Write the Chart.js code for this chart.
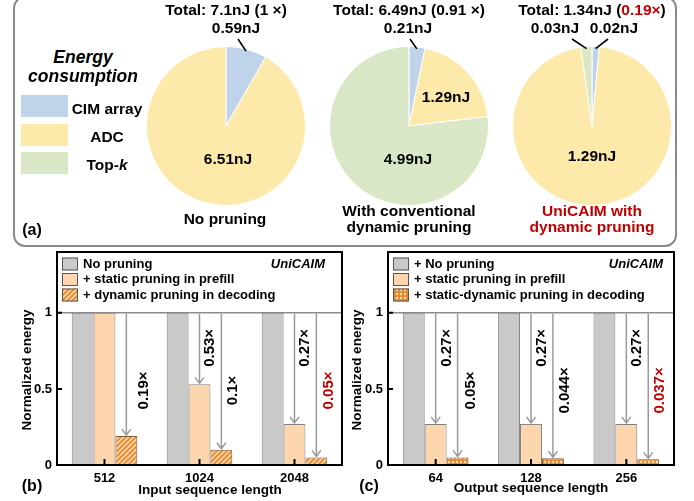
<!DOCTYPE html>
<html>
<head>
<meta charset="utf-8">
<script src="https://cdn.jsdelivr.net/npm/chart.js@4.4.1/dist/chart.umd.min.js"></script>
<style>
  body { margin: 0; background: #fff; }
  #wrap { position: relative; width: 694px; height: 501px; overflow: hidden; font-family: "Liberation Sans", Arial, sans-serif; font-weight: bold; color: #000; }
  canvas { position: absolute; }
  .box { position: absolute; left: 13px; top: -4px; width: 664px; height: 251px; box-sizing: border-box; border: 2px solid #8a8a8a; border-radius: 12px; }
  .t { position: absolute; transform: translate(-50%, -50%); white-space: nowrap; text-align: center; font-size: 15.5px; line-height: 16px; }
  .sw { position: absolute; left: 21px; width: 47px; height: 22px; }
  .red { color: #c00000; }
</style>
</head>
<body>
<div id="wrap">
  <div class="box"></div>
  <canvas id="pie1" width="180" height="246" style="left:136px;top:0"></canvas>
  <canvas id="pie2" width="180" height="246" style="left:319px;top:0"></canvas>
  <canvas id="pie3" width="180" height="246" style="left:502px;top:0"></canvas>

  <div class="t" style="left:83px;top:57px;font-size:17.5px;font-style:italic">Energy</div>
  <div class="t" style="left:83px;top:76px;font-size:17.5px;font-style:italic">consumption</div>
  <div class="sw" style="top:95px;background:#bfd3ea"></div>
  <div class="sw" style="top:124px;background:#fde9a9"></div>
  <div class="sw" style="top:152px;background:#d9e7c6"></div>
  <div class="t" style="left:107px;top:109px">CIM array</div>
  <div class="t" style="left:107px;top:137px">ADC</div>
  <div class="t" style="left:107px;top:165px">Top-<i>k</i></div>

  <div class="t" style="left:226px;top:10px">Total: 7.1nJ (1 ×)</div>
  <div class="t" style="left:409px;top:10px">Total: 6.49nJ (0.91 ×)</div>
  <div class="t" style="left:592px;top:10px">Total: 1.34nJ (<span class="red">0.19×</span>)</div>

  <div class="t" style="left:225px;top:219px">No pruning</div>
  <div class="t" style="left:409px;top:219px">With conventional<br>dynamic pruning</div>
  <div class="t red" style="left:592px;top:219px">UniCAIM with<br>dynamic pruning</div>
  <div class="t" style="left:32px;top:230px;font-size:16px">(a)</div>

  <canvas id="barB" width="347" height="253" style="left:0;top:248px"></canvas>
  <canvas id="barC" width="347" height="253" style="left:347px;top:248px"></canvas>
</div>
<script>
// energy split per pie: CIM array, ADC, Top-k (nJ)
const pieNames = ['CIM array', 'ADC', 'Top-k'];
const noPruningEnergy = [0.59, 6.51, 0];
const conventionalEnergy = [0.21, 1.29, 4.99];
const unicaimEnergy = [0.02, 1.29, 0.03];

// bar panels
const inputLengths = ['512', '1024', '2048'];
const outputLengths = ['64', '128', '256'];
const energyTicks = [0, 0.5, 1];
const inNoPruning = [1, 1, 1];
const inStatic = [1, 0.53, 0.27];
const inDynamic = [0.19, 0.1, 0.05];
const outNoPruning = [1, 1, 1];
const outStatic = [0.27, 0.27, 0.27];
const outStaticDynamic = [0.05, 0.044, 0.037];

const FONT = '"Liberation Sans", Arial, sans-serif';
Chart.defaults.font.family = FONT;
const sliceColors = ['#bfd3ea', '#fde9a9', '#d9e7c6'];
const greyBar = '#c9c9c9';
const peachBar = '#fdd6ad';
const orange = '#e8872a';

function hatchPattern() {
    const c = document.createElement('canvas');
    c.width = c.height = 5;
    const g = c.getContext('2d');
    g.fillStyle = peachBar;
    g.fillRect(0, 0, 5, 5);
    g.strokeStyle = orange;
    g.lineWidth = 1.8;
    g.beginPath();
    g.moveTo(-1, 6); g.lineTo(6, -1);
    g.moveTo(-1, 1); g.lineTo(1, -1);
    g.moveTo(4, 6); g.lineTo(6, 4);
    g.stroke();
    return g.createPattern(c, 'repeat');
}

function dotPattern() {
    const c = document.createElement('canvas');
    c.width = c.height = 4;
    const g = c.getContext('2d');
    g.fillStyle = orange;
    g.fillRect(0, 0, 4, 4);
    g.fillStyle = '#fde2c2';
    g.beginPath();
    g.arc(2, 2, 1.2, 0, Math.PI * 2);
    g.fill();
    return g.createPattern(c, 'repeat');
}

// value labels and leader lines on pies
const sliceLabels = {
    id: 'sliceLabels',
    afterDraw(chart, args, opts) {
        const ctx = chart.ctx;
        const arcs = chart.getDatasetMeta(0).data;
        const values = chart.data.datasets[0].data;
        ctx.save();
        ctx.font = 'bold 15.5px ' + FONT;
        ctx.fillStyle = '#000';
        ctx.textAlign = 'center';
        ctx.textBaseline = 'middle';
        opts.items.forEach(it => {
            const p = arcs[it.index].getProps(['x', 'y', 'outerRadius', 'startAngle', 'endAngle'], true);
            ctx.fillText(values[it.index].toFixed(2) + 'nJ', p.x + it.dx, p.y + it.dy);
            if (it.lead) {
                const mid = (p.startAngle + p.endAngle) / 2;
                ctx.beginPath();
                ctx.moveTo(p.x + it.lead[0], p.y + it.lead[1]);
                ctx.lineTo(p.x + Math.cos(mid) * (p.outerRadius - 2), p.y + Math.sin(mid) * (p.outerRadius - 2));
                ctx.lineWidth = 1.6;
                ctx.strokeStyle = '#000';
                ctx.stroke();
            }
        });
        ctx.restore();
    }
};

function pieChart(id, values, items) {
    return new Chart(document.getElementById(id), {
        type: 'pie',
        data: {
            labels: pieNames,
            datasets: [{ data: values, backgroundColor: sliceColors, borderColor: '#fff', borderWidth: 1 }]
        },
        options: {
            responsive: false,
            animation: false,
            events: [],
            layout: { padding: { left: 10, right: 10, top: 46, bottom: 40 } },
            plugins: { legend: { display: false }, tooltip: { enabled: false }, sliceLabels: { items } }
        },
        plugins: [sliceLabels]
    });
}

pieChart('pie1', noPruningEnergy, [
    { index: 0, dx: 10, dy: -97, lead: [12, -87] },
    { index: 1, dx: 2, dy: 34 }
]);
pieChart('pie2', conventionalEnergy, [
    { index: 0, dx: -1, dy: -97, lead: [1, -87] },
    { index: 1, dx: 37, dy: -28 },
    { index: 2, dx: -1, dy: 34 }
]);
pieChart('pie3', unicaimEnergy, [
    { index: 2, dx: -37, dy: -97, lead: [-20, -87] },
    { index: 0, dx: 22, dy: -97, lead: [16, -87] },
    { index: 1, dx: 0, dy: 31 }
]);

// legend box, arrows, ratio labels, frame and titles on the bar panels
const barDecor = {
    id: 'barDecor',
    afterDraw(chart, args, o) {
        const { ctx, chartArea: a, scales: { x, y } } = chart;
        const y1 = y.getPixelForValue(1);
        ctx.save();

        ctx.fillStyle = '#fff';
        ctx.fillRect(a.left, a.top, a.right - a.left, y1 - a.top);
        ctx.strokeStyle = '#8c8c8c';
        ctx.lineWidth = 1.5;
        ctx.beginPath();
        ctx.moveTo(a.left, y1);
        ctx.lineTo(a.right, y1);
        ctx.stroke();

        ctx.font = 'bold 13px ' + FONT;
        ctx.textBaseline = 'middle';
        chart.data.datasets.forEach((ds, i) => {
            const ry = a.top + 12 + i * 15.5;
            ctx.fillStyle = ds.backgroundColor;
            ctx.fillRect(a.left + 5, ry - 6.5, 16, 13);
            ctx.strokeStyle = '#555';
            ctx.lineWidth = 1;
            ctx.strokeRect(a.left + 5.5, ry - 6, 15, 12);
            ctx.fillStyle = '#000';
            ctx.textAlign = 'left';
            ctx.fillText(ds.label, a.left + 26, ry);
        });
        ctx.font = 'italic bold 13px ' + FONT;
        ctx.textAlign = 'right';
        ctx.fillText('UniCAIM', a.right - o.brandInset, a.top + 12);

        // arrows from 1 down to the pruned bars
        [1, 2].forEach(di => {
            const vals = chart.data.datasets[di].data;
            chart.getDatasetMeta(di).data.forEach((bar, j) => {
                if (vals[j] >= 1) return;
                const bx = bar.x;
                ctx.strokeStyle = '#9a9a9a';
                ctx.lineWidth = 1.5;
                ctx.beginPath();
                ctx.moveTo(bx, y1 + 1);
                ctx.lineTo(bx, bar.y - 1);
                ctx.moveTo(bx - 4.5, bar.y - 7);
                ctx.lineTo(bx, bar.y - 1);
                ctx.lineTo(bx + 4.5, bar.y - 7);
                ctx.stroke();

                const off = di === 1 ? o.staticOffset : o.dynamicOffset[j];
                const ly = y.getPixelForValue(di === 1 ? 0.77 : 0.49);
                ctx.save();
                ctx.translate(bx + off, ly);
                ctx.rotate(-Math.PI / 2);
                ctx.font = 'bold 15px ' + FONT;
                ctx.textAlign = 'center';
                ctx.textBaseline = 'alphabetic';
                ctx.fillStyle = (di === 2 && j === vals.length - 1) ? '#c00000' : '#000';
                ctx.fillText(vals[j] + '×', 0, 0);
                ctx.restore();
            });
        });

        // frame and inward ticks
        ctx.strokeStyle = '#000';
        ctx.lineWidth = 2;
        ctx.strokeRect(a.left, a.top, a.right - a.left, a.bottom - a.top);
        ctx.beginPath();
        energyTicks.forEach(v => {
            const py = y.getPixelForValue(v);
            ctx.moveTo(a.left, py);
            ctx.lineTo(a.left + 5, py);
        });
        chart.data.labels.forEach((l, i) => {
            const px = x.getPixelForValue(i);
            ctx.moveTo(px, a.bottom);
            ctx.lineTo(px, a.bottom - 6);
        });
        ctx.stroke();

        // axis titles and panel letter
        ctx.fillStyle = '#000';
        ctx.textAlign = 'center';
        ctx.textBaseline = 'middle';
        ctx.font = 'bold 13.5px ' + FONT;
        ctx.fillText(o.xTitle, o.xTitlePos[0], o.xTitlePos[1]);
        ctx.save();
        ctx.translate(o.yTitlePos[0], o.yTitlePos[1]);
        ctx.rotate(-Math.PI / 2);
        ctx.fillText('Normalized energy', 0, 0);
        ctx.restore();
        ctx.font = 'bold 16px ' + FONT;
        ctx.fillText(o.letter, o.letterPos[0], o.letterPos[1]);
        ctx.restore();
    }
};

function barChart(id, labels, names, series, fills, deco) {
    return new Chart(document.getElementById(id), {
        type: 'bar',
        data: {
            labels,
            datasets: series.map((s, i) => ({
                label: names[i],
                data: s,
                backgroundColor: fills[i],
                borderColor: i === 2 ? '#7a5a3a' : '#808080',
                borderWidth: 1
            }))
        },
        options: {
            responsive: false,
            animation: false,
            events: [],
            layout: { padding: deco.padding },
            datasets: { bar: { categoryPercentage: 0.69, barPercentage: 1 } },
            scales: {
                x: {
                    grid: { display: false, drawTicks: false },
                    border: { display: false },
                    ticks: { color: '#000', font: { size: 13, weight: 'bold' }, padding: 6 },
                    afterFit(s) { s.height = 36; s.paddingLeft = 0; s.paddingRight = 0; }
                },
                y: {
                    min: 0,
                    max: 1.4,
                    grid: { display: false, drawTicks: false },
                    border: { display: false },
                    afterBuildTicks(s) { s.ticks = energyTicks.map(v => ({ value: v })); },
                    ticks: { color: '#000', font: { size: 13, weight: 'bold' }, padding: 5, callback: v => String(v) },
                    afterFit(s) { s.width = deco.yWidth; s.paddingTop = 0; s.paddingBottom = 0; }
                }
            },
            plugins: { legend: { display: false }, tooltip: { enabled: false }, barDecor: deco }
        },
        plugins: [barDecor]
    });
}

barChart('barB', inputLengths,
    ['No pruning', '+ static pruning in prefill', '+ dynamic pruning in decoding'],
    [inNoPruning, inStatic, inDynamic],
    [greyBar, peachBar, hatchPattern()],
    {
        padding: { top: 4, right: 5, left: 0, bottom: 0 },
        yWidth: 57,
        brandInset: 17,
        staticOffset: 14,
        dynamicOffset: [22, 16, 17],
        xTitle: 'Input sequence length',
        xTitlePos: [210, 242],
        yTitlePos: [27, 122],
        letter: '(b)',
        letterPos: [32, 239]
    });

barChart('barC', outputLengths,
    ['+ No pruning', '+ static pruning in prefill', '+ static-dynamic pruning in decoding'],
    [outNoPruning, outStatic, outStaticDynamic],
    [greyBar, peachBar, dotPattern()],
    {
        padding: { top: 4, right: 20, left: 0, bottom: 0 },
        yWidth: 41,
        brandInset: 11,
        staticOffset: 15,
        dynamicOffset: [17, 16, 16],
        xTitle: 'Output sequence length',
        xTitlePos: [184, 240],
        yTitlePos: [10, 122],
        letter: '(c)',
        letterPos: [22, 239]
    });
</script>
</body>
</html>
